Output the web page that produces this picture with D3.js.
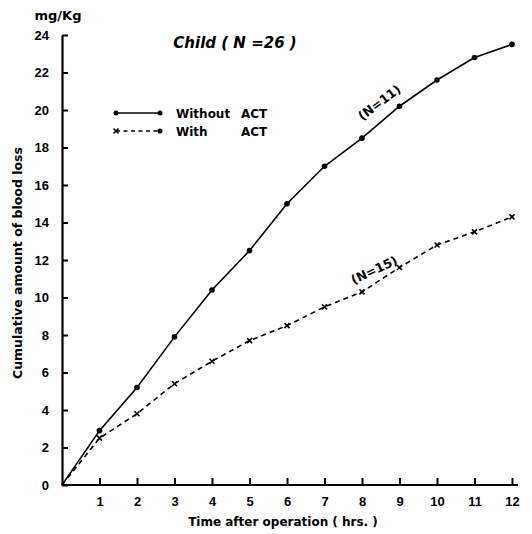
<!DOCTYPE html>
<html>
<head>
<meta charset="utf-8">
<script src="https://cdn.jsdelivr.net/npm/d3@7.9.0/dist/d3.min.js"></script>
<style>
  body { margin: 0; background: #fff; }
  svg { font-family: "DejaVu Sans", sans-serif; }
  .tick text { font-weight: bold; font-size: 13px; }
</style>
</head>
<body>
<svg width="532" height="534"></svg>
<script>
const hours = [0, 1, 2, 3, 4, 5, 6, 7, 8, 9, 10, 11, 12];
const withoutACT = [0, 2.9, 5.2, 7.9, 10.4, 12.5, 15.0, 17.0, 18.5, 20.2, 21.6, 22.8, 23.5];
const withACT = [0, 2.5, 3.8, 5.4, 6.6, 7.7, 8.5, 9.5, 10.3, 11.6, 12.8, 13.5, 14.3];
const yTicks = [0, 2, 4, 6, 8, 10, 12, 14, 16, 18, 20, 22, 24];
const xTicks = [1, 2, 3, 4, 5, 6, 7, 8, 9, 10, 11, 12];

const svg = d3.select('svg');
const x = d3.scaleLinear().domain([0, 12]).range([62, 512]);
const y = d3.scaleLinear().domain([0, 24]).range([485, 35]);

// axes, ticks pointing inward
let yAxis = svg.append('g')
  .attr('transform', `translate(${x(0)},0)`)
  .call(d3.axisLeft(y).tickValues(yTicks).tickSizeInner(-6).tickSizeOuter(0).tickPadding(13));
let xAxis = svg.append('g')
  .attr('transform', `translate(0,${y(0)})`)
  .call(d3.axisBottom(x).tickValues(xTicks).tickSizeInner(-7).tickSizeOuter(0).tickPadding(10));

[yAxis, xAxis].forEach((ax) => {
  ax.select('.domain').attr('stroke-width', 2.2);
  ax.selectAll('.tick line').attr('stroke-width', 2);
});
xAxis.selectAll('.tick text').attr('dy', '0.85em');
// extend x axis a bit past 12
xAxis.select('.domain').attr('d', `M${x(0)},0H${x(12) + 6}`);

svg.append('text').attr('x', 58).attr('y', 20).attr('text-anchor', 'middle')
  .attr('font-weight', 'bold').attr('font-size', 13).text('mg/Kg');

svg.append('text')
  .attr('transform', `translate(22,263) rotate(-90)`)
  .attr('text-anchor', 'middle').attr('font-size', 12.5).attr('font-weight', 'bold')
  .text('Cumulative amount of blood loss');

svg.append('text').attr('x', 283).attr('y', 526).attr('text-anchor', 'middle')
  .attr('font-size', 12).attr('font-weight', 'bold')
  .text('Time after operation ( hrs. )');

svg.append('text').attr('x', 235).attr('y', 48).attr('text-anchor', 'middle')
  .attr('font-size', 15).attr('font-weight', 'bold').attr('font-style', 'italic')
  .text('Child ( N =26 )');

// lines
let line = d3.line().x((d, i) => x(hours[i])).y((d) => y(d));
svg.append('path').datum(withoutACT).attr('d', line)
  .attr('fill', 'none').attr('stroke', '#000').attr('stroke-width', 1.6);
svg.append('path').datum(withACT).attr('d', line)
  .attr('fill', 'none').attr('stroke', '#000').attr('stroke-width', 1.6)
  .attr('stroke-dasharray', '5,4');

// markers
withoutACT.forEach((d, i) => {
  if (i === 0) return;
  svg.append('circle').attr('cx', x(hours[i])).attr('cy', y(d)).attr('r', 2.8).attr('fill', '#000');
});
function cross(cx, cy) {
  svg.append('path')
    .attr('d', `M${cx - 2.5},${cy - 2.5}L${cx + 2.5},${cy + 2.5}M${cx - 2.5},${cy + 2.5}L${cx + 2.5},${cy - 2.5}`)
    .attr('stroke', '#000').attr('stroke-width', 1.6);
}
withACT.forEach((d, i) => {
  if (i === 0) return;
  cross(x(hours[i]), y(d));
});

// legend
svg.append('line').attr('x1', 116).attr('x2', 160).attr('y1', 113).attr('y2', 113)
  .attr('stroke', '#000').attr('stroke-width', 1.6);
svg.append('circle').attr('cx', 116).attr('cy', 113).attr('r', 2.5);
svg.append('circle').attr('cx', 160).attr('cy', 113).attr('r', 2.5);
svg.append('line').attr('x1', 116).attr('x2', 160).attr('y1', 131).attr('y2', 131)
  .attr('stroke', '#000').attr('stroke-width', 1.6).attr('stroke-dasharray', '4,3.5');
cross(116, 131);
svg.append('circle').attr('cx', 160).attr('cy', 131).attr('r', 2.5);
svg.append('text').attr('x', 176).attr('y', 118).attr('font-size', 12).attr('font-weight', 'bold').text('Without');
svg.append('text').attr('x', 176).attr('y', 136).attr('font-size', 12).attr('font-weight', 'bold').text('With');
svg.append('text').attr('x', 241).attr('y', 118).attr('font-size', 12).attr('font-weight', 'bold').text('ACT');
svg.append('text').attr('x', 241).attr('y', 136).attr('font-size', 12).attr('font-weight', 'bold').text('ACT');

// N annotations
svg.append('text').attr('transform', 'translate(382,106) rotate(-37)')
  .attr('text-anchor', 'middle').attr('font-size', 12.5).attr('font-weight', 'bold').text('(N=11)');
svg.append('text').attr('transform', 'translate(376,274) rotate(-25)')
  .attr('text-anchor', 'middle').attr('font-size', 12.5).attr('font-weight', 'bold').text('(N=15)');
</script>
</body>
</html>
